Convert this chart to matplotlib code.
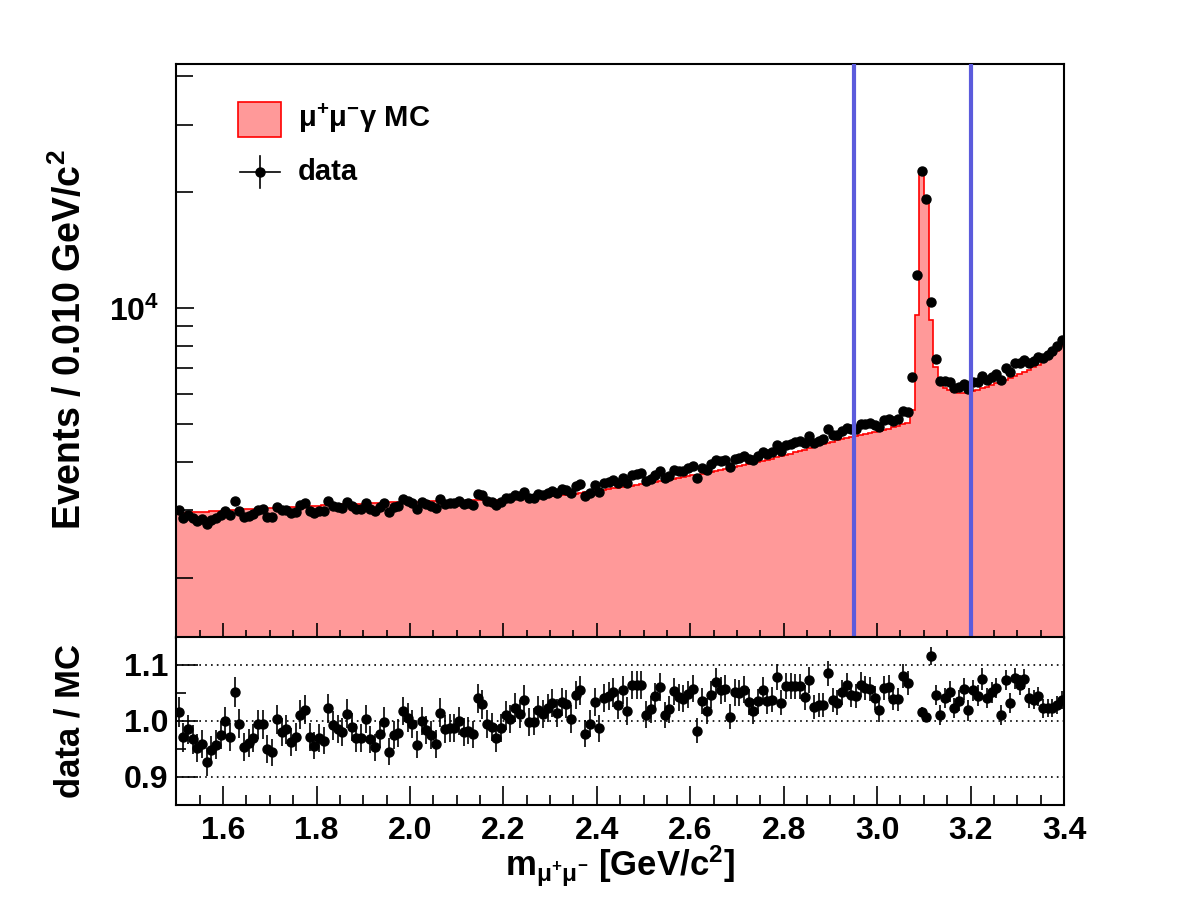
import numpy as np
import matplotlib.pyplot as plt
from matplotlib.ticker import MultipleLocator, NullFormatter, FormatStrFormatter, LogLocator
from matplotlib.patches import Rectangle

plt.rcParams['font.family'] = ['Liberation Sans', 'DejaVu Sans']
plt.rcParams['font.weight'] = 'bold'
plt.rcParams['mathtext.fontset'] = 'custom'
plt.rcParams['mathtext.rm'] = 'Liberation Sans'
plt.rcParams['mathtext.it'] = 'Liberation Sans:italic'
plt.rcParams['mathtext.bf'] = 'Liberation Sans:bold'
plt.rcParams['mathtext.default'] = 'regular'

# binning: 0.010 GeV/c^2 from 1.5 to 3.4
x_lo, x_hi, n_bins = 1.5, 3.4, 190
cut_lo, cut_hi = 2.95, 3.20

# MC prediction per bin
mc_counts = [
    2950, 2945, 2955, 2960, 2955, 2960, 2970, 2975, 2980, 2985,
    2990, 2995, 3000, 3005, 3010, 3010, 3020, 3025, 3030, 3035,
    3040, 3045, 3050, 3050, 3055, 3060, 3065, 3070, 3075, 3075,
    3080, 3085, 3090, 3095, 3095, 3100, 3105, 3110, 3110, 3115,
    3120, 3125, 3130, 3130, 3135, 3140, 3140, 3145, 3145, 3150,
    3150, 3155, 3155, 3160, 3160, 3160, 3165, 3165, 3170, 3170,
    3170, 3172, 3175, 3175, 3178, 3180, 3182, 3185, 3185, 3190,
    3195, 3200, 3205, 3210, 3215, 3220, 3225, 3230, 3240, 3250,
    3260, 3270, 3280, 3290, 3300, 3310, 3320, 3335, 3345, 3360,
    3375, 3390, 3400, 3415, 3430, 3445, 3460, 3470, 3490, 3505,
    3520, 3535, 3550, 3570, 3585, 3600, 3615, 3635, 3650, 3670,
    3690, 3705, 3725, 3745, 3765, 3785, 3805, 3825, 3850, 3870,
    3895, 3920, 3945, 3970, 3995, 4020, 4050, 4080, 4110, 4140,
    4170, 4200, 4235, 4270, 4305, 4340, 4375, 4410, 4445, 4480,
    4515, 4550, 4580, 4610, 4640, 4670, 4700, 4730, 4760, 4790,
    4820, 4850, 4880, 4920, 4960, 5000, 5040, 5450, 9600, 22400,
    19100, 9330, 7050, 6400, 6230, 6130, 6070, 6040, 6040, 6070,
    6110, 6160, 6210, 6270, 6330, 6400, 6470, 6540, 6610, 6690,
    6770, 6850, 6940, 7040, 7150, 7270, 7410, 7570, 7760, 7980,
]

# data / MC per bin
data_over_mc = [
    1.016, 0.971, 0.985, 0.967, 0.952, 0.959, 0.927, 0.948, 0.958, 0.975,
    1.000, 0.971, 1.052, 0.995, 0.953, 0.960, 0.970, 0.994, 0.994, 0.950,
    0.944, 1.003, 0.981, 0.985, 0.962, 0.971, 1.011, 1.020, 0.971, 0.956,
    0.970, 0.965, 1.023, 0.992, 0.985, 0.981, 1.013, 0.989, 0.970, 0.970,
    1.004, 0.967, 0.953, 0.976, 0.999, 0.945, 0.975, 0.978, 1.018, 1.006,
    0.995, 0.958, 1.000, 0.984, 0.975, 0.959, 1.015, 0.985, 0.988, 0.988,
    1.000, 0.981, 0.983, 0.976, 1.041, 1.030, 0.995, 0.989, 0.970, 0.988,
    1.010, 1.004, 1.024, 1.013, 1.038, 0.999, 0.999, 1.019, 1.013, 1.023,
    1.032, 1.015, 1.034, 1.030, 1.004, 1.046, 1.055, 0.977, 0.995, 1.034,
    0.987, 1.041, 1.045, 1.051, 1.029, 1.056, 1.018, 1.065, 1.065, 1.065,
    1.011, 1.021, 1.044, 1.061, 1.011, 1.021, 1.053, 1.042, 1.040, 1.048,
    1.058, 0.983, 1.036, 1.018, 1.047, 1.070, 1.055, 1.058, 1.008, 1.051,
    1.050, 1.056, 1.034, 1.017, 1.035, 1.056, 1.036, 1.038, 1.078, 1.033,
    1.062, 1.062, 1.062, 1.062, 1.042, 1.073, 1.025, 1.029, 1.029, 1.085,
    1.038, 1.033, 1.051, 1.064, 1.046, 1.044, 1.065, 1.059, 1.057, 1.041,
    1.019, 1.059, 1.061, 1.040, 1.039, 1.081, 1.068, 1.220, 1.270, 1.016,
    1.008, 1.116, 1.046, 1.011, 1.041, 1.052, 1.023, 1.036, 1.057, 1.019,
    1.055, 1.045, 1.075, 1.041, 1.051, 1.059, 1.011, 1.073, 1.032, 1.076,
    1.064, 1.075, 1.041, 1.038, 1.044, 1.023, 1.023, 1.023, 1.029, 1.038,
]

edges = np.linspace(x_lo, x_hi, n_bins + 1)
centers = 0.5 * (edges[:-1] + edges[1:])
mc = np.array(mc_counts, dtype=float)
ratio = np.array(data_over_mc)
data = ratio * mc
data_err = np.sqrt(data)
ratio_err = ratio * np.sqrt(1.0 / data + 1.0 / mc)

W, H = 1182, 915
fig = plt.figure(figsize=(W / 100, H / 100), dpi=100)
left, right = 176.4, 1064.0
ax = fig.add_axes([left / W, 1 - 637.5 / H, (right - left) / W, 573.5 / H])
rax = fig.add_axes([left / W, 1 - 805.0 / H, (right - left) / W, 168.0 / H])

# ---- upper panel
ax.stairs(mc, edges, baseline=1.0, fill=True, color='#ff9999', lw=0)
ax.stairs(mc, edges, baseline=None, color='red', lw=1.2)
ax.errorbar(centers, data, yerr=data_err, fmt='o', color='black',
            ms=6.5, elinewidth=1.2, capsize=0, zorder=5)
ax.axvline(cut_lo, color='#5b5bdc', lw=3.0, zorder=6)
ax.axvline(cut_hi, color='#5b5bdc', lw=3.0, zorder=6)

ax.set_xlim(x_lo, x_hi)
ax.set_yscale('log')
ax.set_ylim(1400, 43100)
ax.yaxis.set_major_locator(LogLocator(base=10))
ax.yaxis.set_minor_locator(LogLocator(base=10, subs=np.arange(2, 10)))
ax.yaxis.set_minor_formatter(NullFormatter())
ax.xaxis.set_major_locator(MultipleLocator(0.2))
ax.xaxis.set_minor_locator(MultipleLocator(0.05))
ax.tick_params(axis='x', which='both', direction='in', labelbottom=False)
ax.tick_params(axis='x', which='major', length=11, width=1.2)
ax.tick_params(axis='x', which='minor', length=5.5, width=1.2)
ax.tick_params(axis='y', which='major', direction='in', length=13, width=1.2,
               labelsize=23, pad=12)
ax.tick_params(axis='y', which='minor', direction='in', length=12, width=1.2)
for s in ax.spines.values():
    s.set_linewidth(1.5)

# legend drawn by hand
ax.add_patch(Rectangle((0.0694, 0.8727), 0.0484, 0.061, transform=ax.transAxes,
                       facecolor='#ff9999', edgecolor='red', lw=1.2, zorder=7))
ax.plot([0.0717, 0.1167], [0.8117, 0.8117], color='black', lw=1.2,
        transform=ax.transAxes, zorder=7)
ax.plot([0.0942, 0.0942], [0.7838, 0.8396], color='black', lw=1.2,
        transform=ax.transAxes, zorder=7)
ax.plot([0.0942], [0.8117], 'o', color='black', ms=6.5,
        transform=ax.transAxes, zorder=7)
ax.text(0.137, 0.9058, r'$\mathrm{\mu^{+}\mu^{-}\gamma}$ MC', transform=ax.transAxes,
        fontsize=21, va='center', ha='left')
ax.text(0.137, 0.8117, 'data', transform=ax.transAxes,
        fontsize=21, va='center', ha='left')

# ---- ratio panel
for yv in (0.9, 1.0, 1.1):
    rax.axhline(yv, color='black', lw=1.2, ls=(0, (1, 2.5)), zorder=1)
rax.errorbar(centers, ratio, yerr=ratio_err, fmt='o', color='black',
             ms=6.5, elinewidth=1.2, capsize=0, zorder=5)
rax.set_xlim(x_lo, x_hi)
rax.set_ylim(0.85, 1.15)
rax.xaxis.set_major_locator(MultipleLocator(0.2))
rax.xaxis.set_minor_locator(MultipleLocator(0.05))
rax.yaxis.set_major_locator(MultipleLocator(0.1))
rax.yaxis.set_minor_locator(MultipleLocator(0.05))
rax.yaxis.set_major_formatter(FormatStrFormatter('%.1f'))
rax.xaxis.set_major_formatter(FormatStrFormatter('%.1f'))
rax.tick_params(axis='x', which='major', direction='in', length=14, width=1.2,
                labelsize=23, pad=8)
rax.tick_params(axis='x', which='minor', direction='in', length=7, width=1.2)
rax.tick_params(axis='y', which='major', direction='in', length=16, width=1.2,
                labelsize=23, pad=6)
rax.tick_params(axis='y', which='minor', direction='in', length=7, width=1.2)
for s in rax.spines.values():
    s.set_linewidth(1.5)

# axis titles
fig.text(70 / W, 1 - 340 / H, r'Events / 0.010 GeV/c$^{2}$', rotation=90,
         ha='center', va='center', fontsize=27)
fig.text(70 / W, 1 - 721 / H, 'data / MC', rotation=90,
         ha='center', va='center', fontsize=25)
fig.text(620 / W, 1 - 866 / H, r'm$_{\mathrm{\mu^{+}\mu^{-}}}$ [GeV/c$^{2}$]',
         ha='center', va='center', fontsize=25)

fig.savefig('out.png', dpi=100)
